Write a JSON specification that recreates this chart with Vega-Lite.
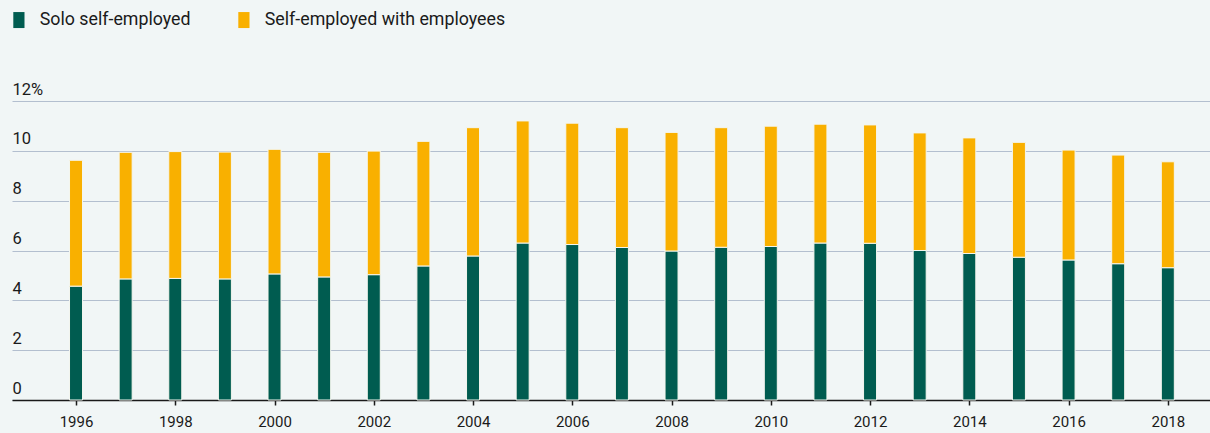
{
  "$schema": "https://vega.github.io/schema/vega-lite/v6.json",
  "autosize": {"type": "none"},
  "width": 1198,
  "height": 299,
  "padding": {"left": 12, "top": 101, "right": 0, "bottom": 33},
  "background": "#f1f6f6",
  "config": {
    "view": {"stroke": null},
    "font": "Roboto",
    "axis": {"labelFont": "Roboto", "labelColor": "#1a1a1a"}
  },
  "data": {
    "values": [
      {"year": 1996, "type": "Solo self-employed", "value": 4.57},
      {"year": 1997, "type": "Solo self-employed", "value": 4.86},
      {"year": 1998, "type": "Solo self-employed", "value": 4.88},
      {"year": 1999, "type": "Solo self-employed", "value": 4.86},
      {"year": 2000, "type": "Solo self-employed", "value": 5.06},
      {"year": 2001, "type": "Solo self-employed", "value": 4.94},
      {"year": 2002, "type": "Solo self-employed", "value": 5.03},
      {"year": 2003, "type": "Solo self-employed", "value": 5.38},
      {"year": 2004, "type": "Solo self-employed", "value": 5.78},
      {"year": 2005, "type": "Solo self-employed", "value": 6.30},
      {"year": 2006, "type": "Solo self-employed", "value": 6.24},
      {"year": 2007, "type": "Solo self-employed", "value": 6.12},
      {"year": 2008, "type": "Solo self-employed", "value": 5.98},
      {"year": 2009, "type": "Solo self-employed", "value": 6.13},
      {"year": 2010, "type": "Solo self-employed", "value": 6.16},
      {"year": 2011, "type": "Solo self-employed", "value": 6.30},
      {"year": 2012, "type": "Solo self-employed", "value": 6.29},
      {"year": 2013, "type": "Solo self-employed", "value": 6.00},
      {"year": 2014, "type": "Solo self-employed", "value": 5.88},
      {"year": 2015, "type": "Solo self-employed", "value": 5.73},
      {"year": 2016, "type": "Solo self-employed", "value": 5.62},
      {"year": 2017, "type": "Solo self-employed", "value": 5.47},
      {"year": 2018, "type": "Solo self-employed", "value": 5.31},
      {"year": 1996, "type": "Self-employed with employees", "value": 5.05},
      {"year": 1997, "type": "Self-employed with employees", "value": 5.08},
      {"year": 1998, "type": "Self-employed with employees", "value": 5.09},
      {"year": 1999, "type": "Self-employed with employees", "value": 5.09},
      {"year": 2000, "type": "Self-employed with employees", "value": 5.00},
      {"year": 2001, "type": "Self-employed with employees", "value": 5.00},
      {"year": 2002, "type": "Self-employed with employees", "value": 4.96},
      {"year": 2003, "type": "Self-employed with employees", "value": 5.00},
      {"year": 2004, "type": "Self-employed with employees", "value": 5.15},
      {"year": 2005, "type": "Self-employed with employees", "value": 4.90},
      {"year": 2006, "type": "Self-employed with employees", "value": 4.87},
      {"year": 2007, "type": "Self-employed with employees", "value": 4.81},
      {"year": 2008, "type": "Self-employed with employees", "value": 4.76},
      {"year": 2009, "type": "Self-employed with employees", "value": 4.80},
      {"year": 2010, "type": "Self-employed with employees", "value": 4.83},
      {"year": 2011, "type": "Self-employed with employees", "value": 4.77},
      {"year": 2012, "type": "Self-employed with employees", "value": 4.75},
      {"year": 2013, "type": "Self-employed with employees", "value": 4.72},
      {"year": 2014, "type": "Self-employed with employees", "value": 4.64},
      {"year": 2015, "type": "Self-employed with employees", "value": 4.61},
      {"year": 2016, "type": "Self-employed with employees", "value": 4.41},
      {"year": 2017, "type": "Self-employed with employees", "value": 4.36},
      {"year": 2018, "type": "Self-employed with employees", "value": 4.25}
    ]
  },
  "mark": {"type": "bar", "size": 13, "stroke": "#f4f6ef", "strokeWidth": 1},
  "encoding": {
    "x": {
      "field": "year",
      "type": "quantitative",
      "scale": {"domain": [1994.71, 2018.85], "nice": false, "zero": false, "padding": 0},
      "axis": {
        "title": null,
        "values": [1996, 1998, 2000, 2002, 2004, 2006, 2008, 2010, 2012, 2014, 2016, 2018],
        "format": "d",
        "grid": false,
        "domainColor": "#1a1a1a",
        "domainWidth": 1.5,
        "tickColor": "#1a1a1a",
        "tickSize": 5,
        "tickWidth": 1.5,
        "labelFontSize": 15,
        "labelPadding": 9,
        "labelFlush": false
      }
    },
    "y": {
      "field": "value",
      "type": "quantitative",
      "stack": "zero",
      "scale": {"domain": [0, 12], "nice": false, "padding": 0},
      "axis": {
        "title": null,
        "values": [0, 2, 4, 6, 8, 10, 12],
        "labelExpr": "datum.value == 12 ? '12%' : datum.label",
        "domain": false,
        "ticks": false,
        "tickSize": 0,
        "labelPadding": 0,
        "labelAlign": "left",
        "labelBaseline": "bottom",
        "labelOffset": -4,
        "labelFontSize": 16.5,
        "gridColor": "#b3bfcf",
        "gridWidth": 1.2,
        "gridOpacity": 1
      }
    },
    "color": {
      "field": "type",
      "type": "nominal",
      "sort": ["Solo self-employed", "Self-employed with employees"],
      "scale": {
        "domain": ["Solo self-employed", "Self-employed with employees"],
        "range": ["#005c50", "#f9b000"]
      },
      "legend": {
        "title": null,
        "orient": "none",
        "legendX": -2,
        "legendY": -90,
        "direction": "horizontal",
        "symbolType": "M-0.7,-1H0.7V1H-0.7Z",
        "symbolSize": 256,
        "symbolStrokeWidth": 0,
        "symbolOpacity": 1,
        "labelFontSize": 17.8,
        "labelFont": "Roboto",
        "labelColor": "#1a1a1a",
        "labelOffset": 12,
        "columnPadding": 44,
        "labelLimit": 400
      }
    },
    "order": {"field": "type", "sort": "descending"}
  }
}
